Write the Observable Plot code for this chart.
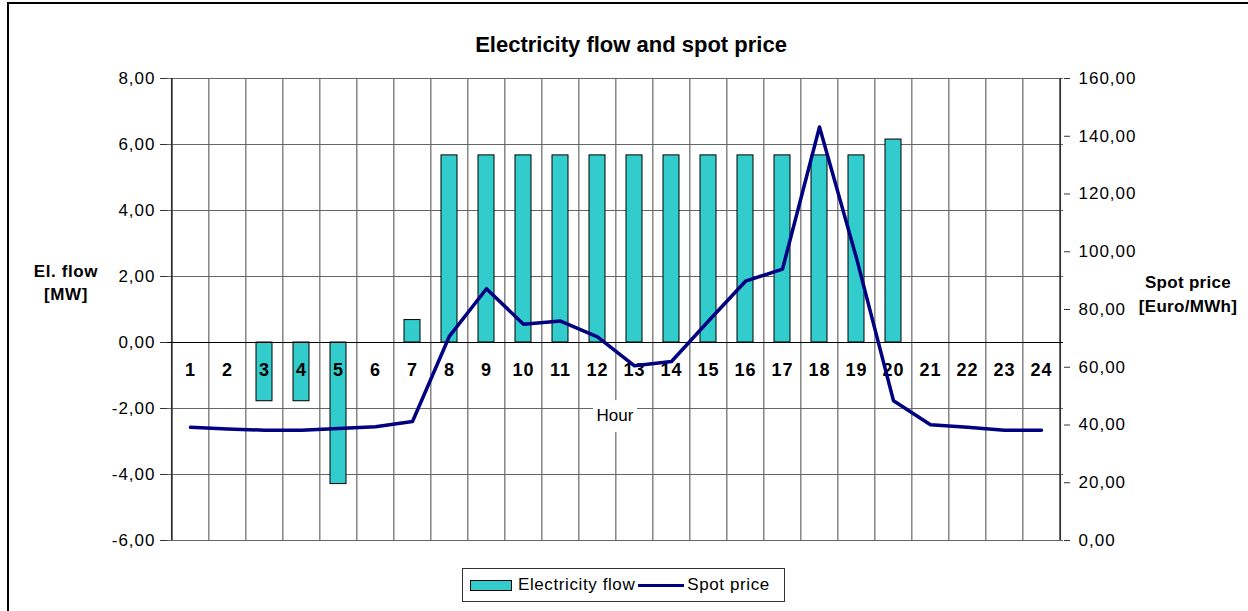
<!DOCTYPE html>
<html>
<head>
<meta charset="utf-8">
<script src="https://cdn.jsdelivr.net/npm/d3@7"></script>
<script src="https://cdn.jsdelivr.net/npm/@observablehq/plot@0.6"></script>
<style>
  html, body { margin: 0; padding: 0; background: #fff; }
  #wrap { position: relative; width: 1248px; height: 611px; overflow: hidden; font-family: "Liberation Sans", Arial, sans-serif; color: #000; }
  #border { position: absolute; left: 7px; top: 2px; width: 1400px; height: 800px; border-top: 2px solid #000; border-left: 2px solid #000; }
  #chart { position: absolute; left: 0; top: 0; }
  #chart svg text { letter-spacing: 1px; }
  .abs { position: absolute; }
  #title { left: 0; width: 1262px; top: 32px; line-height: 26px; text-align: center; font-weight: bold; font-size: 22px; letter-spacing: 0px; }
  #ytitle { left: 6px; width: 120px; top: 260px; line-height: 23px; text-align: center; font-weight: bold; font-size: 17px; letter-spacing: 0.6px; }
  #y2title { left: 1128px; width: 120px; top: 271px; line-height: 24px; text-align: center; font-weight: bold; font-size: 17px; letter-spacing: 0.3px; }
  #hour { left: 593px; top: 400px; width: 44px; height: 32px; line-height: 32px; background: #fff; text-align: center; font-size: 17px; }
  #legend { left: 462px; top: 568px; width: 323px; height: 34px; box-sizing: border-box; border: 1px solid #333; display: flex; align-items: center; padding-left: 7px; font-size: 17px; letter-spacing: 0.6px; background: #fff; }
  .sw { display: inline-block; width: 40px; height: 9px; background: #33CCCC; border: 1px solid #000; margin-right: 6px; }
  .ln { display: inline-block; width: 46px; height: 3px; background: #000080; margin: 0 3px 0 3px; }
</style>
</head>
<body>
<div id="wrap">
  <div id="border"></div>
  <div id="chart"></div>
  <div id="title" class="abs">Electricity flow and spot price</div>
  <div id="ytitle" class="abs">El. flow<br>[MW]</div>
  <div id="y2title" class="abs">Spot price<br>[Euro/MWh]</div>
  <div id="hour" class="abs">Hour</div>
  <div id="legend" class="abs"><span class="sw"></span><span>Electricity flow</span><span class="ln"></span><span>Spot price</span></div>
</div>
<script>
// ---- data ----
const hours = ["1","2","3","4","5","6","7","8","9","10","11","12","13","14","15","16","17","18","19","20","21","22","23","24"];
const flow = [0, 0, -1.78, -1.78, -4.29, 0, 0.68, 5.67, 5.67, 5.67, 5.67, 5.67, 5.67, 5.67, 5.67, 5.67, 5.67, 5.67, 5.67, 6.15, 0, 0, 0, 0];
const price = [39.2, 38.6, 38.2, 38.2, 38.8, 39.4, 41.2, 70.8, 87.2, 74.9, 76.0, 70.5, 60.5, 62.0, 76.0, 89.8, 94.0, 143.2, 97.8, 48.4, 40.1, 39.2, 38.2, 38.2];
const flowTicks = [-6, -4, -2, 0, 2, 4, 6, 8];
const priceTicks = [0, 20, 40, 60, 80, 100, 120, 140, 160];
const flowDomain = [-6, 8];
const priceDomain = [0, 160];

// ---- derived ----
const data = hours.map((h, i) => ({hour: h, flow: flow[i], price: price[i]}));
const toFlow = p => flowDomain[0] + (p - priceDomain[0]) * (flowDomain[1] - flowDomain[0]) / (priceDomain[1] - priceDomain[0]);
const toPrice = f => priceDomain[0] + (f - flowDomain[0]) * (priceDomain[1] - priceDomain[0]) / (flowDomain[1] - flowDomain[0]);
const fmt = v => (Math.round(v * 100) / 100).toFixed(2).replace(".", ",");

const W = 1248, H = 611, mL = 167, mR = 185, mT = 78, mB = 71;
const step = (W - mL - mR) / hours.length;

const chart = Plot.plot({
  width: W, height: H,
  marginLeft: mL, marginRight: mR, marginTop: mT, marginBottom: mB,
  style: {fontFamily: "Liberation Sans, Arial, sans-serif", fontSize: "17px", color: "#000", background: "transparent"},
  x: {type: "band", domain: hours, paddingInner: 0.58, paddingOuter: 0.29, axis: null},
  y: {domain: flowDomain, axis: null},
  marks: [
    Plot.ruleY(flowTicks, {stroke: "#666", strokeWidth: 1.2}),
    Plot.ruleX(hours.slice(1), {x: d => d, dx: -step / 2, stroke: "#666", strokeWidth: 1.2}),
    Plot.ruleX([hours[0]], {x: d => d, dx: -step / 2, stroke: "#333", strokeWidth: 1.8}),
    Plot.ruleX([hours[hours.length - 1]], {x: d => d, dx: step / 2, stroke: "#333", strokeWidth: 1.8}),
    Plot.barY(data, {x: "hour", y: "flow", fill: "#33CCCC", stroke: "#000", strokeWidth: 1}),
    Plot.ruleY([0], {stroke: "#000", strokeWidth: 1.2}),
    Plot.text(data, {x: "hour", y: () => 0, text: "hour", dy: 28, fontWeight: "bold", fontSize: 18, fill: "#000"}),
    Plot.line(data, {x: "hour", y: d => toFlow(d.price), stroke: "#000080", strokeWidth: 3.5, strokeLinejoin: "round"}),
    Plot.axisY(flowTicks, {anchor: "left", tickFormat: fmt, tickSize: 7, tickPadding: 5, stroke: "#333", label: null, fontSize: 17}),
    Plot.axisY(priceTicks.map(toFlow), {anchor: "right", tickFormat: v => fmt(toPrice(v)), tickSize: 6, tickPadding: 9, stroke: "#333", label: null, fontSize: 17})
  ]
});
document.getElementById("chart").appendChild(chart);
</script>
</body>
</html>
